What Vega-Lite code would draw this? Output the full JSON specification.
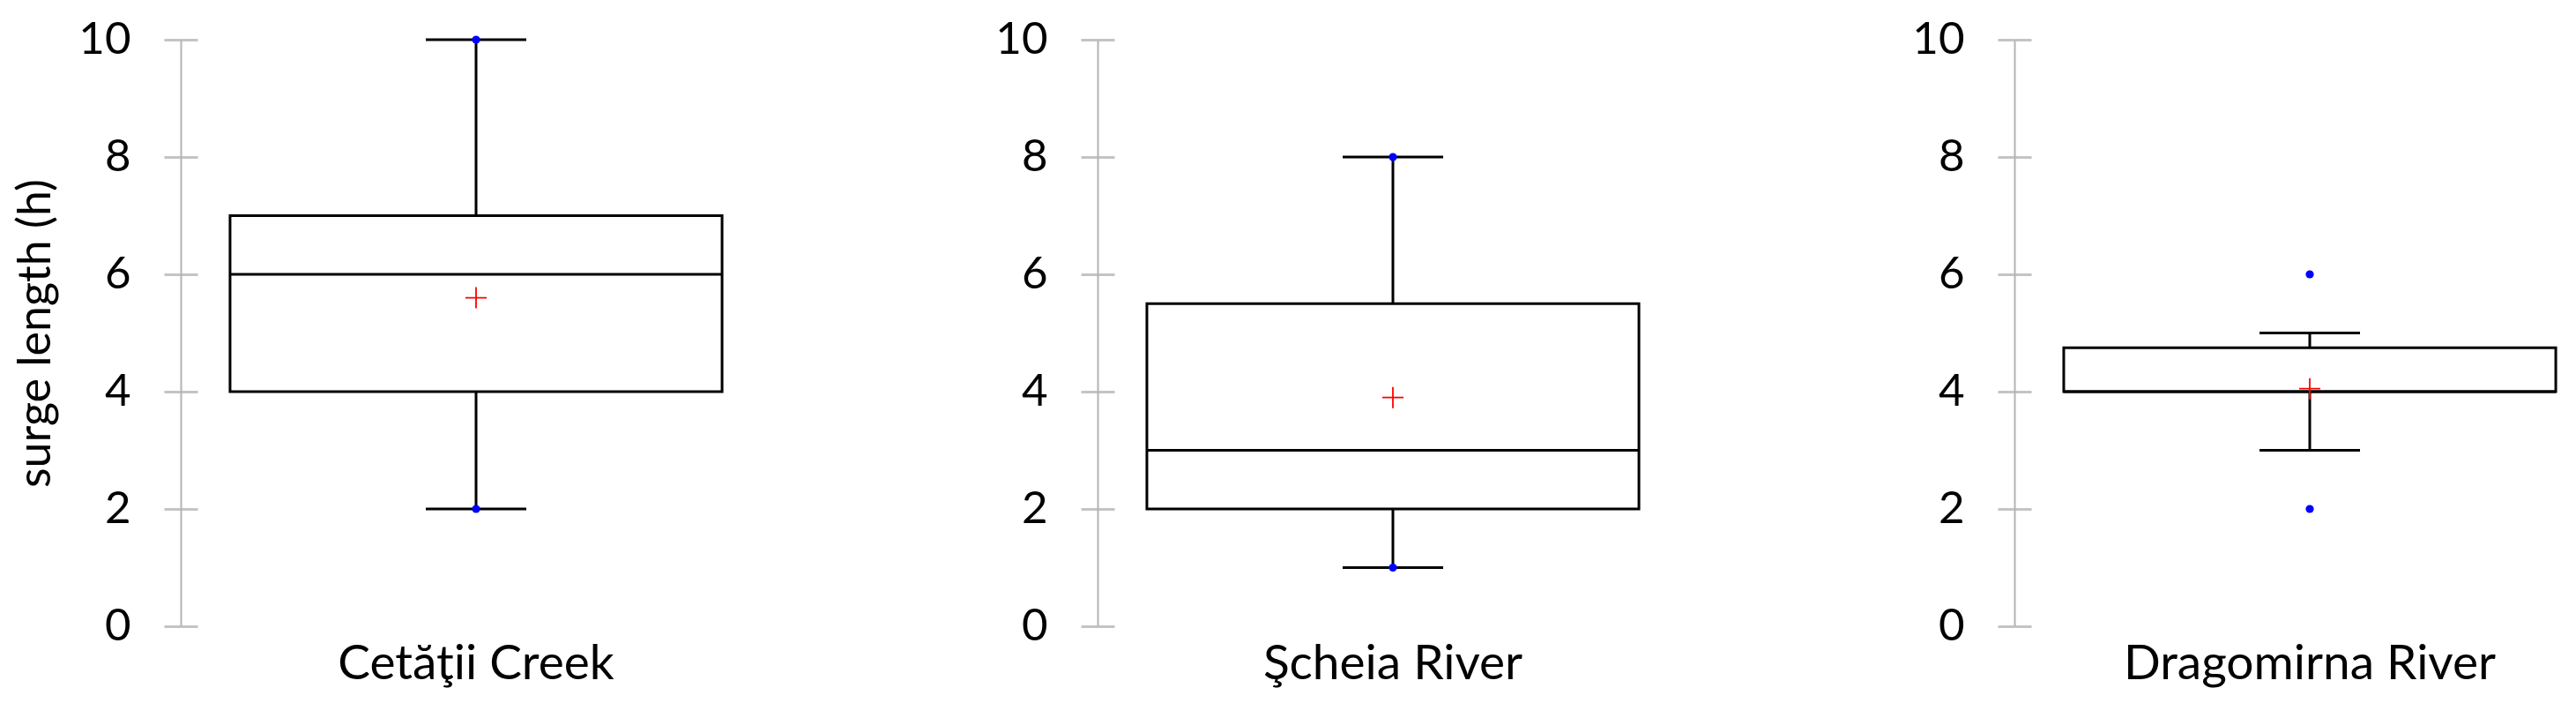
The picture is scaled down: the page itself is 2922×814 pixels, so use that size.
{
  "$schema": "https://vega.github.io/schema/vega-lite/v6.json",
  "background": "white",
  "autosize": {"type": "pad"},
  "padding": {"left": 14, "top": 19, "right": 0, "bottom": 0},
  "config": {"view": {"stroke": null}, "font": "Lato"},
  "datasets": {
    "stats": [
      {"river": "Cetăţii Creek", "lo": 2, "q1": 4, "median": 6, "q3": 7, "hi": 10, "mean": 5.6},
      {"river": "Şcheia River", "lo": 1, "q1": 2, "median": 3, "q3": 5.5, "hi": 8, "mean": 3.9},
      {"river": "Dragomirna River", "lo": 3, "q1": 4, "median": 4, "q3": 4.75, "hi": 5, "mean": 4.05}
    ],
    "points": [
      {"river": "Cetăţii Creek", "value": 2},
      {"river": "Cetăţii Creek", "value": 10},
      {"river": "Şcheia River", "value": 1},
      {"river": "Şcheia River", "value": 8},
      {"river": "Dragomirna River", "value": 2},
      {"river": "Dragomirna River", "value": 6}
    ]
  },
  "spacing": 370,
  "bounds": "flush",
  "hconcat": [
    {
      "data": {"name": "stats"},
      "transform": [{"filter": {"field": "river", "equal": "Cetăţii Creek"}}],
      "width": 670, "height": 665,
      "encoding": {
        "x": {"field": "river", "type": "nominal", "scale": {"paddingInner": 0, "paddingOuter": 0},
          "axis": {"domain": false, "ticks": false, "grid": false, "labelAngle": 0, "labelLimit": 0, "labelFont": "Lato", "labelFontSize": 55, "labelColor": "black", "labelPadding": 16, "title": null}}
      },
      "layer": [
        {"mark": {"type": "rule", "color": "black", "strokeWidth": 3},
         "encoding": {"y": {"field": "lo", "type": "quantitative", "scale": {"domain": [0, 10], "nice": false},
            "axis": {"values": [0, 2, 4, 6, 8, 10], "format": "d", "domainColor": "#b3b3b3", "domainWidth": 2, "tickColor": "#c4c4c4", "tickWidth": 3, "tickSize": 19,
              "grid": true, "gridColor": "#c4c4c4", "gridWidth": 3, "gridDash": [19, 3000],
              "labelFont": "Lato", "labelFontSize": 51, "labelColor": "black", "labelPadding": 38,
              "title": "surge length (h)", "titleFont": "Lato", "titleFontSize": 52, "titleFontWeight": "normal", "titleColor": "black", "titlePadding": 21}},
           "y2": {"field": "hi"}}},
        {"mark": {"type": "bar", "width": {"band": 0.833}, "fill": "white", "stroke": "black", "strokeWidth": 3},
         "encoding": {"y": {"field": "q1", "type": "quantitative"}, "y2": {"field": "q3"}}},
        {"mark": {"type": "bar", "width": {"band": 0.833}, "fill": null, "fillOpacity": 0, "stroke": "black", "strokeWidth": 3},
         "encoding": {"y": {"field": "median", "type": "quantitative"}, "y2": {"field": "median"}}},
        {"mark": {"type": "tick", "size": 114, "thickness": 3, "color": "black", "opacity": 1},
         "encoding": {"y": {"field": "lo", "type": "quantitative"}}},
        {"mark": {"type": "tick", "size": 114, "thickness": 3, "color": "black", "opacity": 1},
         "encoding": {"y": {"field": "hi", "type": "quantitative"}}},
        {"mark": {"type": "point", "shape": "M-1,0L1,0M0,-1L0,1", "size": 576, "stroke": "#ff0000", "strokeWidth": 1.8, "filled": false, "opacity": 1},
         "encoding": {"y": {"field": "mean", "type": "quantitative"}}},
        {"data": {"name": "points"}, "transform": [{"filter": {"field": "river", "equal": "Cetăţii Creek"}}],
         "mark": {"type": "circle", "size": 85, "color": "#0000ff", "opacity": 1},
         "encoding": {"y": {"field": "value", "type": "quantitative"}}}
      ]
    },
    {
      "data": {"name": "stats"},
      "transform": [{"filter": {"field": "river", "equal": "Şcheia River"}}],
      "width": 670, "height": 665,
      "encoding": {
        "x": {"field": "river", "type": "nominal", "scale": {"paddingInner": 0, "paddingOuter": 0},
          "axis": {"domain": false, "ticks": false, "grid": false, "labelAngle": 0, "labelLimit": 0, "labelFont": "Lato", "labelFontSize": 55, "labelColor": "black", "labelPadding": 16, "title": null}}
      },
      "layer": [
        {"mark": {"type": "rule", "color": "black", "strokeWidth": 3},
         "encoding": {"y": {"field": "lo", "type": "quantitative", "scale": {"domain": [0, 10], "nice": false},
            "axis": {"values": [0, 2, 4, 6, 8, 10], "format": "d", "domainColor": "#b3b3b3", "domainWidth": 2, "tickColor": "#c4c4c4", "tickWidth": 3, "tickSize": 19,
              "grid": true, "gridColor": "#c4c4c4", "gridWidth": 3, "gridDash": [19, 3000],
              "labelFont": "Lato", "labelFontSize": 51, "labelColor": "black", "labelPadding": 38, "title": null}},
           "y2": {"field": "hi"}}},
        {"mark": {"type": "bar", "width": {"band": 0.833}, "fill": "white", "stroke": "black", "strokeWidth": 3},
         "encoding": {"y": {"field": "q1", "type": "quantitative"}, "y2": {"field": "q3"}}},
        {"mark": {"type": "bar", "width": {"band": 0.833}, "fill": null, "fillOpacity": 0, "stroke": "black", "strokeWidth": 3},
         "encoding": {"y": {"field": "median", "type": "quantitative"}, "y2": {"field": "median"}}},
        {"mark": {"type": "tick", "size": 114, "thickness": 3, "color": "black", "opacity": 1},
         "encoding": {"y": {"field": "lo", "type": "quantitative"}}},
        {"mark": {"type": "tick", "size": 114, "thickness": 3, "color": "black", "opacity": 1},
         "encoding": {"y": {"field": "hi", "type": "quantitative"}}},
        {"mark": {"type": "point", "shape": "M-1,0L1,0M0,-1L0,1", "size": 576, "stroke": "#ff0000", "strokeWidth": 1.8, "filled": false, "opacity": 1},
         "encoding": {"y": {"field": "mean", "type": "quantitative"}}},
        {"data": {"name": "points"}, "transform": [{"filter": {"field": "river", "equal": "Şcheia River"}}],
         "mark": {"type": "circle", "size": 85, "color": "#0000ff", "opacity": 1},
         "encoding": {"y": {"field": "value", "type": "quantitative"}}}
      ]
    },
    {
      "data": {"name": "stats"},
      "transform": [{"filter": {"field": "river", "equal": "Dragomirna River"}}],
      "width": 670, "height": 665,
      "encoding": {
        "x": {"field": "river", "type": "nominal", "scale": {"paddingInner": 0, "paddingOuter": 0},
          "axis": {"domain": false, "ticks": false, "grid": false, "labelAngle": 0, "labelLimit": 0, "labelFont": "Lato", "labelFontSize": 55, "labelColor": "black", "labelPadding": 16, "title": null}}
      },
      "layer": [
        {"mark": {"type": "rule", "color": "black", "strokeWidth": 3},
         "encoding": {"y": {"field": "lo", "type": "quantitative", "scale": {"domain": [0, 10], "nice": false},
            "axis": {"values": [0, 2, 4, 6, 8, 10], "format": "d", "domainColor": "#b3b3b3", "domainWidth": 2, "tickColor": "#c4c4c4", "tickWidth": 3, "tickSize": 19,
              "grid": true, "gridColor": "#c4c4c4", "gridWidth": 3, "gridDash": [19, 3000],
              "labelFont": "Lato", "labelFontSize": 51, "labelColor": "black", "labelPadding": 38, "title": null}},
           "y2": {"field": "hi"}}},
        {"mark": {"type": "bar", "width": {"band": 0.833}, "fill": "white", "stroke": "black", "strokeWidth": 3},
         "encoding": {"y": {"field": "q1", "type": "quantitative"}, "y2": {"field": "q3"}}},
        {"mark": {"type": "bar", "width": {"band": 0.833}, "fill": null, "fillOpacity": 0, "stroke": "black", "strokeWidth": 3},
         "encoding": {"y": {"field": "median", "type": "quantitative"}, "y2": {"field": "median"}}},
        {"mark": {"type": "tick", "size": 114, "thickness": 3, "color": "black", "opacity": 1},
         "encoding": {"y": {"field": "lo", "type": "quantitative"}}},
        {"mark": {"type": "tick", "size": 114, "thickness": 3, "color": "black", "opacity": 1},
         "encoding": {"y": {"field": "hi", "type": "quantitative"}}},
        {"mark": {"type": "point", "shape": "M-1,0L1,0M0,-1L0,1", "size": 576, "stroke": "#ff0000", "strokeWidth": 1.8, "filled": false, "opacity": 1},
         "encoding": {"y": {"field": "mean", "type": "quantitative"}}},
        {"data": {"name": "points"}, "transform": [{"filter": {"field": "river", "equal": "Dragomirna River"}}],
         "mark": {"type": "circle", "size": 85, "color": "#0000ff", "opacity": 1},
         "encoding": {"y": {"field": "value", "type": "quantitative"}}}
      ]
    }
  ]
}
